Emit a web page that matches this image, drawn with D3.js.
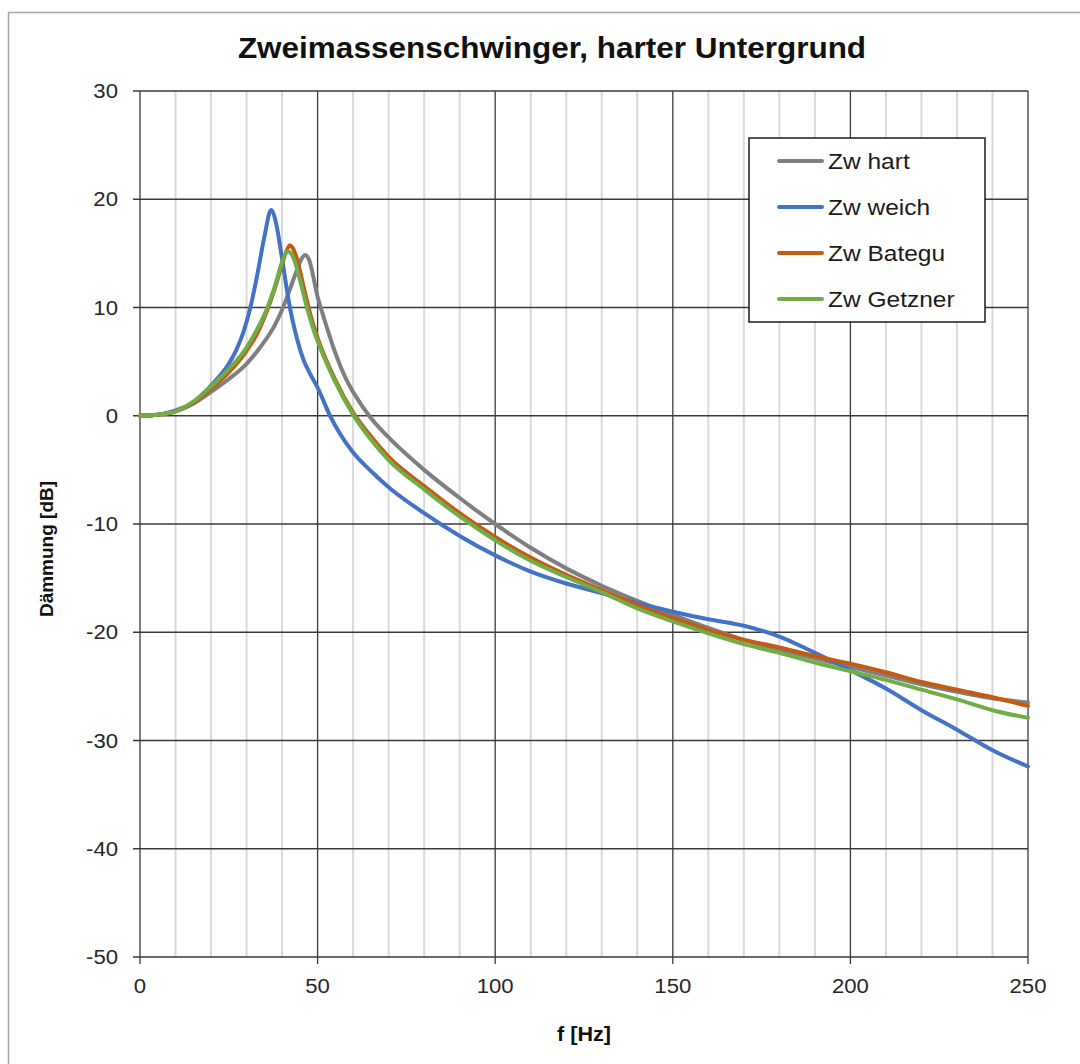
<!DOCTYPE html>
<html>
<head>
<meta charset="utf-8">
<script src="https://cdn.jsdelivr.net/npm/d3@7"></script>
<style>
  body { margin: 0; background: #fff; }
  svg { display: block; font-family: "Liberation Sans", Arial, sans-serif; }
</style>
</head>
<body>
<svg width="1080" height="1064"></svg>
<script>
// series data (f in Hz, attenuation in dB)
const hartF  = [0, 5, 10, 15, 20, 25, 30, 34, 38, 40, 42, 44, 45.5, 46.5, 47.5, 50, 52, 55, 58, 60, 65, 70, 80, 90, 100, 110, 120, 130, 140, 150, 160, 170, 180, 190, 200, 210, 220, 230, 240, 250];
const hartDb = [0, 0.1, 0.4, 1.1, 2.2, 3.4, 4.8, 6.4, 8.4, 9.8, 11.5, 13.3, 14.5, 14.85, 14.5, 11.0, 8.8, 5.8, 3.4, 2.2, -0.2, -2.0, -5.0, -7.6, -10.0, -12.2, -14.1, -15.7, -17.1, -18.4, -19.6, -20.7, -21.6, -22.4, -23.2, -24.0, -24.8, -25.5, -26.1, -26.5];

const weichF  = [0, 5, 10, 15, 20, 25, 27, 29, 31, 33, 35, 36.9, 38.3, 39.9, 42.2, 43.6, 46, 48, 50, 53.5, 56, 60, 65, 70, 80, 90, 100, 110, 120, 130, 140, 150, 160, 170, 180, 190, 200, 210, 220, 230, 240, 250];
const weichDb = [0, 0.1, 0.5, 1.2, 2.8, 4.8, 6.0, 7.6, 9.9, 13.0, 16.5, 19.0, 17.8, 14.7, 10.0, 7.9, 5.2, 3.8, 2.6, 0, -1.5, -3.4, -5.1, -6.6, -9.0, -11.1, -12.9, -14.4, -15.5, -16.4, -17.3, -18.1, -18.8, -19.4, -20.4, -21.9, -23.5, -25.2, -27.2, -29.0, -30.9, -32.4];

const bateguF  = [0, 5, 10, 15, 20, 25, 30, 33, 36, 38, 40, 41, 42.2, 43, 44, 46, 48, 50, 55, 60, 65, 70, 80, 90, 100, 110, 120, 130, 140, 150, 160, 170, 180, 190, 200, 210, 220, 230, 240, 250];
const bateguDb = [0, 0.1, 0.4, 1.2, 2.5, 4.0, 6.0, 7.6, 9.9, 11.8, 14.0, 15.0, 15.75, 15.5, 14.7, 12.0, 9.3, 7.2, 3.3, 0.3, -1.9, -3.8, -6.5, -9.0, -11.2, -13.1, -14.7, -16.1, -17.5, -18.7, -19.8, -20.7, -21.4, -22.2, -22.9, -23.7, -24.6, -25.3, -26.0, -26.8];

const getznerF  = [0, 5, 10, 15, 20, 25, 30, 33, 36, 38, 40, 41.5, 42.5, 43.2, 45, 47, 49, 50, 55, 60, 65, 70, 80, 90, 100, 110, 120, 130, 140, 150, 160, 170, 180, 190, 200, 210, 220, 230, 240, 250];
const getznerDb = [0, 0.1, 0.4, 1.3, 2.7, 4.3, 6.3, 8.0, 10.1, 12.0, 14.2, 15.2, 15.0, 14.6, 12.6, 10.0, 7.8, 6.9, 3.1, 0.1, -2.2, -4.1, -6.8, -9.3, -11.5, -13.4, -14.9, -16.3, -17.8, -19.0, -20.1, -21.1, -21.9, -22.8, -23.6, -24.4, -25.3, -26.2, -27.2, -27.9];

const seriesNames  = ["Zw hart", "Zw weich", "Zw Bategu", "Zw Getzner"];
const seriesColors = ["#7f7f7f", "#4472c4", "#c55a11", "#70ad47"];

const xTicks = [0, 50, 100, 150, 200, 250];
const xMinor = d3.range(0, 251, 10);
const yTicks = [30, 20, 10, 0, -10, -20, -30, -40, -50];

const series = [
  {name: seriesNames[0], color: seriesColors[0], f: hartF, db: hartDb},
  {name: seriesNames[1], color: seriesColors[1], f: weichF, db: weichDb},
  {name: seriesNames[2], color: seriesColors[2], f: bateguF, db: bateguDb},
  {name: seriesNames[3], color: seriesColors[3], f: getznerF, db: getznerDb}
];

const svg = d3.select("svg");
const plotLeft = 140, plotRight = 1028, plotTop = 91, plotBottom = 957;

const x = d3.scaleLinear().domain([0, 250]).range([plotLeft, plotRight]);
const y = d3.scaleLinear().domain([-50, 30]).range([plotBottom, plotTop]);

// the source picture is a little wider than tall, so text gets a small horizontal stretch
const place = (px, py, sx) => `translate(${px},${py}) scale(${sx},1)`;

// outer chart frame
svg.append("rect")
    .attr("x", 8.5).attr("y", 12.5)
    .attr("width", 1100).attr("height", 1100)
    .attr("fill", "none")
    .attr("stroke", "#a6a6a6")
    .attr("stroke-width", 1.5);

// minor vertical grid
svg.append("g")
    .selectAll("line")
    .data(xMinor.filter(d => d % 50 !== 0))
    .join("line")
    .attr("x1", d => x(d)).attr("x2", d => x(d))
    .attr("y1", plotTop).attr("y2", plotBottom)
    .attr("stroke", "#d9d9d9")
    .attr("stroke-width", 2);

// major grid
svg.append("g")
    .selectAll("line")
    .data(xTicks)
    .join("line")
    .attr("x1", d => x(d)).attr("x2", d => x(d))
    .attr("y1", plotTop).attr("y2", plotBottom + 7)
    .attr("stroke", "#3a3a3a")
    .attr("stroke-width", 1.3);

svg.append("g")
    .selectAll("line")
    .data(yTicks)
    .join("line")
    .attr("x1", plotLeft - 7).attr("x2", plotRight)
    .attr("y1", d => y(d)).attr("y2", d => y(d))
    .attr("stroke", "#3a3a3a")
    .attr("stroke-width", 1.3);

// axis labels
svg.append("g")
    .selectAll("text")
    .data(yTicks)
    .join("text")
    .attr("transform", d => place(plotLeft - 22, y(d) + 7, 1.08))
    .attr("text-anchor", "end")
    .style("font-size", "20.5px")
    .attr("fill", "#262626")
    .text(d => d);

svg.append("g")
    .selectAll("text")
    .data(xTicks)
    .join("text")
    .attr("transform", d => place(x(d), plotBottom + 36, 1.08))
    .attr("text-anchor", "middle")
    .style("font-size", "20.5px")
    .attr("fill", "#262626")
    .text(d => d);

// curves
const line = d3.line()
    .x(d => x(d[0]))
    .y(d => y(d[1]))
    .curve(d3.curveMonotoneX);

svg.append("g")
    .attr("fill", "none")
    .attr("stroke-width", 4)
    .attr("stroke-linejoin", "round")
    .attr("stroke-linecap", "round")
    .selectAll("path")
    .data(series)
    .join("path")
    .attr("stroke", d => d.color)
    .attr("d", d => line(d.f.map((f, i) => [f, d.db[i]])));

// titles
svg.append("text")
    .attr("transform", place(552, 58, 1.05))
    .attr("text-anchor", "middle")
    .style("font-size", "30px")
    .style("font-weight", "bold")
    .attr("fill", "#111")
    .text("Zweimassenschwinger, harter Untergrund");

svg.append("text")
    .attr("transform", place((plotLeft + plotRight) / 2, 1041, 1.08))
    .attr("text-anchor", "middle")
    .style("font-size", "20px")
    .style("font-weight", "bold")
    .attr("fill", "#111")
    .text("f [Hz]");

svg.append("text")
    .attr("transform", "translate(53,549) rotate(-90)")
    .attr("text-anchor", "middle")
    .style("font-size", "19px")
    .style("font-weight", "bold")
    .attr("fill", "#111")
    .text("Dämmung [dB]");

// legend
const legend = svg.append("g");
legend.append("rect")
    .attr("x", 749).attr("y", 138)
    .attr("width", 236).attr("height", 184)
    .attr("fill", "#fff")
    .attr("stroke", "#1a1a1a")
    .attr("stroke-width", 1.5);

const item = legend.selectAll("g")
    .data(series)
    .join("g")
    .attr("transform", (d, i) => `translate(0,${161 + i * 46})`);

item.append("line")
    .attr("x1", 779).attr("x2", 822)
    .attr("stroke", d => d.color)
    .attr("stroke-width", 4)
    .attr("stroke-linecap", "round");

item.append("text")
    .attr("transform", place(828, 8, 1.14))
    .style("font-size", "21.5px")
    .attr("fill", "#1a1a1a")
    .text(d => d.name);
</script>
</body>
</html>
